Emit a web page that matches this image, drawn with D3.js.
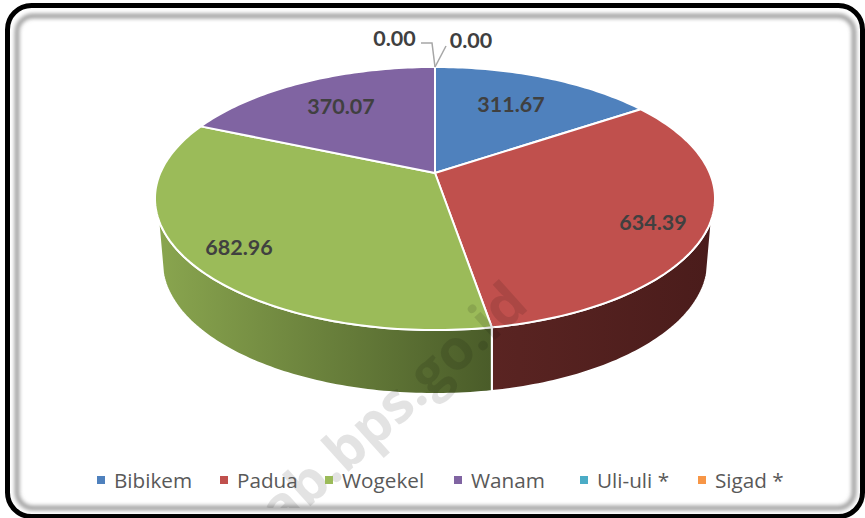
<!DOCTYPE html>
<html lang="en">
  <head>
    <meta charset="UTF-8" />
    <title>Pie</title>
    <script src="https://d3js.org/d3.v7.min.js"></script>
    <style>
      html, body { margin: 0; padding: 0; background: #fff; }
      svg { display: block; }
    </style>
  </head>
  <body>
    <svg width="865" height="518"></svg>
    <script>
      var categories = ['Bibikem', 'Padua', 'Wogekel', 'Wanam', 'Uli-uli *', 'Sigad *']
      var values = [311.67, 634.39, 682.96, 370.07, 0, 0]
      var labels = ['311.67', '634.39', '682.96', '370.07', '0.00', '0.00']
      var colors = ['#4f81bd', '#c0504d', '#9bbb59', '#8064a2', '#4bacc6', '#f79646']

      var svg = d3.select('svg')
      var defs = svg.append('defs')

      // blurred inner edge of the frame
      var blur = defs.append('filter').attr('id', 'soft')
        .attr('x', '-5%').attr('y', '-5%').attr('width', '110%').attr('height', '110%')
      blur.append('feGaussianBlur').attr('stdDeviation', 2)

      svg.append('rect').attr('x', 7.5).attr('y', 5.5).attr('width', 855).attr('height', 511)
        .attr('rx', 24).attr('fill', '#fff').attr('stroke', '#000').attr('stroke-width', 5)
      svg.append('rect').attr('x', 17).attr('y', 16).attr('width', 837).attr('height', 492)
        .attr('rx', 16).attr('fill', 'none').attr('stroke', '#8c8c8c').attr('stroke-width', 4)
        .attr('filter', 'url(#soft)')

      // the pie is a circle seen in perspective, so the centre sits above the middle of the ellipse
      var cx = 435, cy = 173, rx = 274.7, ry = 126.6, persp = 0.194
      var x = d3.scaleLinear().domain([-1, 1]).range([cx - rx, cx + rx])
      var y = d3.scaleLinear().domain([-1, 1]).range([cy - ry, cy + ry])

      // lower rim of the wall
      var rimCy = 262, rimRx = 273, rimRy = 132
      var rimEnd = Math.asin(272 / rimRx)
      // angle past which the top face no longer hides the wall
      var sideAngle = 109.4 * Math.PI / 180

      function project(a) {
        var w = 1 + persp * Math.cos(a)
        return [x(Math.sin(a) / w), y(-Math.cos(a) / w)]
      }

      function steps(a0, a1) {
        var n = Math.max(2, Math.ceil(Math.abs(a1 - a0) / 0.02))
        return d3.range(n + 1).map(function (i) { return a0 + (a1 - a0) * i / n })
      }

      // bottom rim between two screen x positions
      function rim(x0, x1) {
        var t0 = Math.asin((x0 - cx) / rimRx)
        var t1 = Math.asin((x1 - cx) / rimRx)
        return steps(t0, t1).map(function (t) {
          return [cx + rimRx * Math.sin(t), rimCy + rimRy * Math.cos(t)]
        })
      }

      var line = d3.line()
      var pie = d3.pie().sort(null).value(function (d) { return d })
      var pieData = pie(values)

      // side wall, only Padua and Wogekel reach the front
      var rightEdge = cx + rimRx * Math.sin(rimEnd), leftEdge = cx - rimRx * Math.sin(rimEnd)
      var walls = [
        { i: 1, x1: 491, x2: 715, from: '#5a2422', to: '#4a1c1b', a0: sideAngle, a1: pieData[1].endAngle },
        { i: 2, x1: 155, x2: 491, from: '#8aa64f', to: '#4a5c29', a0: pieData[2].startAngle, a1: 2 * Math.PI - sideAngle }
      ]
      walls.forEach(function (w) {
        var id = 'wall' + w.i
        var g = defs.append('linearGradient').attr('id', id).attr('gradientUnits', 'userSpaceOnUse')
          .attr('x1', w.x1).attr('x2', w.x2).attr('y1', 0).attr('y2', 0)
        g.append('stop').attr('offset', 0).attr('stop-color', w.from)
        g.append('stop').attr('offset', 1).attr('stop-color', w.to)
        var top = steps(w.a0, w.a1).map(project)
        var bottom = w.i === 1 ? rim(project(w.a1)[0], rightEdge) : rim(leftEdge, project(w.a0)[0])
        svg.append('path').attr('d', line(top.concat(bottom)) + 'Z')
          .attr('fill', 'url(#' + id + ')').attr('stroke', '#fff').attr('stroke-width', 2)
          .attr('stroke-linejoin', 'round')
      })

      // top face
      svg.selectAll('.slice').data(pieData.slice(0, 4)).enter().append('path')
        .attr('class', 'slice')
        .attr('d', function (d) {
          var pts = steps(d.startAngle, d.endAngle).map(project)
          return line([[cx, cy]].concat(pts)) + 'Z'
        })
        .attr('fill', function (d, i) { return colors[i] })
        .attr('stroke', '#fff').attr('stroke-width', 2).attr('stroke-linejoin', 'round')

      // watermark, its start runs under the frame
      defs.append('clipPath').attr('id', 'inner').append('rect')
        .attr('x', 17).attr('y', 16).attr('width', 837).attr('height', 492)
      svg.append('g').attr('clip-path', 'url(#inner)').append('text')
        .attr('transform', 'translate(256,555) rotate(-42)')
        .attr('font-family', 'Open Sans').attr('font-weight', 700).attr('font-size', 56)
        .attr('fill', '#000').attr('fill-opacity', 0.11)
        .text('kab.bps.go.id')

      // leader lines of the two empty slices
      var leaders = [[[421, 43], [432, 43], [435, 67]], [[446, 46], [435, 67]]]
      svg.selectAll('.leader').data(leaders).enter().append('path')
        .attr('class', 'leader').attr('d', line).attr('fill', 'none')
        .attr('stroke', '#a6a6a6').attr('stroke-width', 1.5)

      var labelPos = [[511, 104], [653, 222], [239, 247], [341, 106], [394.5, 38], [471, 40]]
      svg.selectAll('.value').data(labels).enter().append('text')
        .attr('class', 'value')
        .attr('x', function (d, i) { return labelPos[i][0] })
        .attr('y', function (d, i) { return labelPos[i][1] })
        .attr('text-anchor', 'middle').attr('dominant-baseline', 'central')
        .attr('font-family', 'Lato').attr('font-weight', 700).attr('font-size', 21.5)
        .attr('fill', '#404040')
        .text(function (d) { return d })

      // legend
      var legendX = [97, 220, 325, 454, 580, 698]
      var legend = svg.selectAll('.legend').data(categories).enter().append('g')
        .attr('class', 'legend')
        .attr('transform', function (d, i) { return 'translate(' + legendX[i] + ',480)' })
      legend.append('rect').attr('x', 0).attr('y', -4).attr('width', 8).attr('height', 8)
        .attr('fill', function (d, i) { return colors[i] })
      legend.append('text').attr('x', 17).attr('dominant-baseline', 'central')
        .attr('font-family', 'Open Sans').attr('font-size', 20.7).attr('fill', '#595959')
        .text(function (d) { return d })
    </script>
  </body>
</html>
